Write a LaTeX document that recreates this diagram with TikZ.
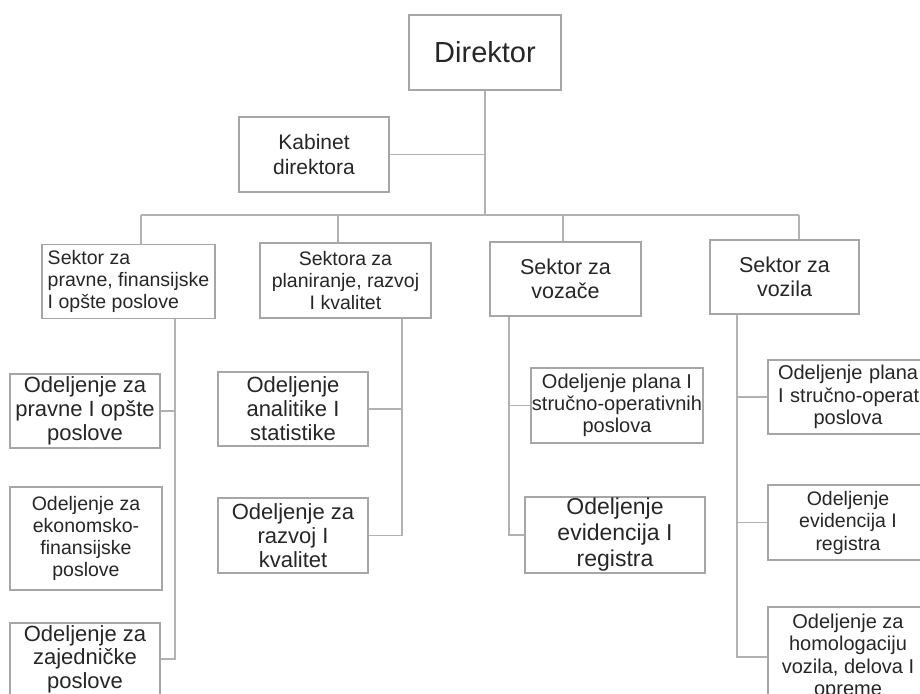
\documentclass[tikz,border=0pt]{standalone}
\usepackage{fontspec}
\setmainfont{Liberation Sans}
\begin{document}
\begin{tikzpicture}[x=1pt, y=-1pt,
    box/.style={draw=black!35, line width=1.2pt, rectangle, inner sep=1pt,
                align=center, text=black!85},
    conn/.style={draw=black!30, line width=1.2pt}]
    \useasboundingbox (0,0) rectangle (920,693);
    % top
    \node[box, minimum width=152pt, minimum height=75pt, font=\fontsize{29}{33}\selectfont]
        (dir) at (485,52.5) {Direktor};
    \node[box, minimum width=150pt, minimum height=75pt, font=\fontsize{21}{25}\selectfont]
        (kab) at (314,154.5) {Kabinet\\direktora};
    % sektori
    \node[box, minimum width=173pt, minimum height=74pt, align=left,
          font=\fontsize{19.5}{21.7}\selectfont]
        (sek1) at (128.5,281.5) {Sektor za\\pravne, finansijske\\I opšte poslove};
    \node[box, minimum width=171pt, minimum height=75pt, font=\fontsize{19.5}{21.7}\selectfont]
        (sek2) at (345.5,280.5) {Sektora za\\planiranje, razvoj\\I kvalitet};
    \node[box, minimum width=151pt, minimum height=74pt, font=\fontsize{21.5}{24}\selectfont]
        (sek3) at (565.5,279) {Sektor za\\vozače};
    \node[box, minimum width=149pt, minimum height=74pt, font=\fontsize{21.5}{24}\selectfont]
        (sek4) at (784.5,277) {Sektor za\\vozila};
    % odeljenja
    \node[box, minimum width=150pt, minimum height=74pt, font=\fontsize{22}{24}\selectfont]
        (odPravne) at (85,411) {Odeljenje za\\pravne I opšte\\poslove};
    \node[box, minimum width=152pt, minimum height=103pt, font=\fontsize{19.5}{22}\selectfont]
        (odEkonomsko) at (86,538.5) {Odeljenje za\\ekonomsko-\\finansijske\\poslove};
    \node[box, minimum width=150pt, minimum height=72pt, font=\fontsize{22}{23.5}\selectfont]
        (odZajednicke) at (85,659) {Odeljenje za\\zajedničke\\poslove};
    \node[box, minimum width=150pt, minimum height=74pt, font=\fontsize{22}{24}\selectfont]
        (odAnalitike) at (293,409) {Odeljenje\\analitike I\\statistike};
    \node[box, minimum width=150pt, minimum height=75pt, font=\fontsize{22}{24}\selectfont]
        (odRazvoj) at (293,535.5) {Odeljenje za\\razvoj I\\kvalitet};
    \node[box, minimum width=170pt, minimum height=75pt, font=\fontsize{20}{21.7}\selectfont]
        (odPlanaVoz) at (617,405.5) {Odeljenje plana I\\stručno-operativnih\\poslova};
    \node[box, minimum width=180pt, minimum height=76pt, font=\fontsize{23}{26}\selectfont]
        (odEvidVoz) at (615,535) {Odeljenje\\evidencija I\\registra};
    \node[box, minimum width=160pt, minimum height=74pt, text width=140pt,
          font=\fontsize{20}{22.5}\selectfont]
        (odPlanaVzl) at (848,397) {\mbox{Odeljenje plana}\\\mbox{I stručno-operativnih}\\poslova};
    \node[box, minimum width=160pt, minimum height=75pt, font=\fontsize{19.5}{22.5}\selectfont]
        (odEvidVzl) at (848,522.5) {Odeljenje\\evidencija I\\registra};
    \node[box, minimum width=160pt, minimum height=100pt, font=\fontsize{20}{22.5}\selectfont]
        (odHomol) at (848,657) {Odeljenje za\\homologaciju\\vozila, delova I\\opreme};
    % veze
    \coordinate (busL) at (141,215);
    \coordinate (busR) at (799,215);
    \draw[conn] (dir.south) -- (dir.south |- busL);
    \draw[conn] (kab.east) -- (kab.east -| dir.south);
    \draw[conn] (busL) -- (busR);
    \foreach \x/\s in {141/sek1, 338/sek2, 563/sek3, 799/sek4}
        \draw[conn] (\x,215) -- (\s.north -| \x,215);
    \draw[conn] ([xshift=46.5pt]sek1.south) |- (odPravne.east);
    \draw[conn] ([xshift=46.5pt]sek1.south) |- (odZajednicke.east);
    \draw[conn] ([xshift=56.5pt]sek2.south) |- (odAnalitike.east);
    \draw[conn] ([xshift=56.5pt]sek2.south) |- (odRazvoj.east);
    \draw[conn] ([xshift=-56.5pt]sek3.south) |- (odPlanaVoz.west);
    \draw[conn] ([xshift=-56.5pt]sek3.south) |- (odEvidVoz.west);
    \draw[conn] ([xshift=-47.5pt]sek4.south) |- (odPlanaVzl.west);
    \draw[conn] ([xshift=-47.5pt]sek4.south) |- (odEvidVzl.west);
    \draw[conn] ([xshift=-47.5pt]sek4.south) |- (odHomol.west);
\end{tikzpicture}
\end{document}
